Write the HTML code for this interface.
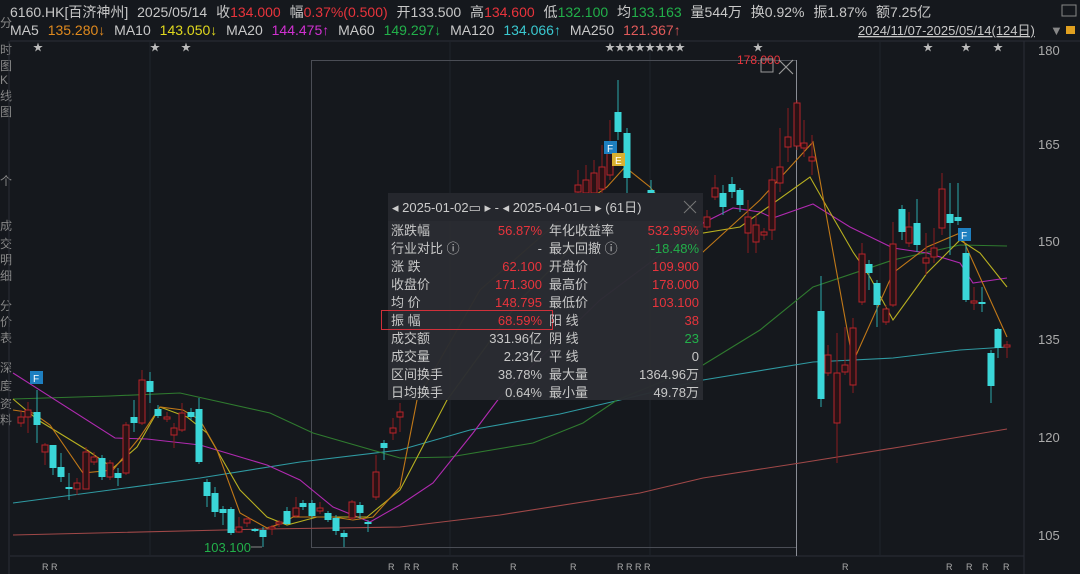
<!DOCTYPE html>
<html><head><meta charset="utf-8">
<style>
body{margin:0;background:#15181d;width:1080px;height:574px;overflow:hidden;font-family:"Liberation Sans","Noto Sans CJK SC",sans-serif;color:#c8c8c8}
svg{position:absolute;left:0;top:0}
.t{font-family:"Liberation Sans","Noto Sans CJK SC",sans-serif}
</style></head><body>
<svg id="s" width="1080" height="574" xmlns="http://www.w3.org/2000/svg">
<rect width="1080" height="574" fill="#15181d"/>
<line x1="10" y1="41" x2="1080" y2="41" stroke="#2a2e36"/>
<line x1="1024" y1="41" x2="1024" y2="574" stroke="#2a2e36"/>
<line x1="10" y1="556" x2="1024" y2="556" stroke="#2a2e36"/>
<line x1="150" y1="41" x2="150" y2="556" stroke="#1f232a"/>
<line x1="450" y1="41" x2="450" y2="556" stroke="#1f232a"/>
<line x1="650" y1="41" x2="650" y2="556" stroke="#1f232a"/>
<line x1="880" y1="41" x2="880" y2="556" stroke="#1f232a"/>
<rect x="311.5" y="60.5" width="485" height="487" fill="none" stroke="#4a4d55"/>
<line x1="796.5" y1="60" x2="796.5" y2="556" stroke="#8a8d95"/>
<g id="ma" fill="none" stroke-width="1.1"></g>
<g id="cd"></g>
<g class="t" font-size="14" word-spacing="5">
<text x="10" y="17" fill="#c8c8c8">6160.HK[百济神州]  2025/05/14 收<tspan fill="#e8343c">134.000</tspan> 幅<tspan fill="#e8343c">0.37%(0.500)</tspan> 开133.500 高<tspan fill="#e8343c">134.600</tspan> 低<tspan fill="#22b04a">132.100</tspan> 均<tspan fill="#22b04a">133.163</tspan> 量544万 换0.92% 振1.87% 额7.25亿</text>
<text x="10" y="35" fill="#c8c8c8">MA5 <tspan fill="#e08a1e">135.280↓</tspan> MA10 <tspan fill="#e0d81e">143.050↓</tspan> MA20 <tspan fill="#d030d0">144.475↑</tspan> MA60 <tspan fill="#22b04a">149.297↓</tspan> MA120 <tspan fill="#3ac8d0">134.066↑</tspan> MA250 <tspan fill="#e05a5a">121.367↑</tspan></text>
</g>
<g class="t" font-size="13">
<text x="858" y="35" fill="#c8c8c8" text-decoration="underline">2024/11/07-2025/05/14(124日)</text>
<text x="1050" y="35" fill="#888">▼</text>
<rect x="1066" y="26" width="9" height="8" fill="#e0a020"/>
<rect x="1062" y="5" width="14" height="11" fill="none" stroke="#888"/>
</g>
<g fill="#bbb" font-size="10" class="t">
<text x="33" y="51">★</text><text x="150" y="51">★</text><text x="181" y="51">★</text>
<text x="605" y="51">★★★★★★★★</text><text x="753" y="51">★</text><text x="923" y="51">★</text><text x="961" y="51">★</text><text x="993" y="51">★</text>
</g>
<g fill="#aaa" font-size="13" class="t">
<text x="1038" y="55">180</text><text x="1038" y="149">165</text><text x="1038" y="246">150</text><text x="1038" y="344">135</text><text x="1038" y="442">120</text><text x="1038" y="540">105</text>
</g>
<g fill="#aaa" font-size="9" class="t">
<text x="42" y="570">R R</text><text x="388" y="570">R</text><text x="404" y="570">R</text><text x="413" y="570">R</text><text x="452" y="570">R</text><text x="510" y="570">R</text><text x="570" y="570">R</text><text x="617" y="570">R R R R</text><text x="842" y="570">R</text><text x="946" y="570">R</text><text x="966" y="570">R</text><text x="982" y="570">R</text><text x="1003" y="570">R</text>
</g>
<g fill="#888" font-size="12" class="t">
<text x="0" y="27">分</text><text x="0" y="54">时</text><text x="0" y="70">图</text>
<text x="0" y="84">K</text><text x="0" y="100">线</text><text x="0" y="116">图</text>
<text x="0" y="185">个</text><text x="0" y="230">成</text><text x="0" y="248">交</text><text x="0" y="264">明</text><text x="0" y="280">细</text>
<text x="0" y="310">分</text><text x="0" y="326">价</text><text x="0" y="342">表</text>
<text x="0" y="372">深</text><text x="0" y="390">度</text><text x="0" y="408">资</text><text x="0" y="424">料</text>
</g>
<line x1="9" y1="41" x2="9" y2="574" stroke="#2a2e36"/>
<text x="737" y="64" fill="#e8343c" font-size="12" class="t">178.000</text>
<rect x="761" y="59" width="12" height="13" fill="none" stroke="#999"/>
<path d="M779 60 L793 74 M793 60 L779 74" stroke="#999" stroke-width="1.2"/>
<text x="204" y="552" fill="#22b04a" font-size="13" class="t">103.100</text>
<line x1="251" y1="547" x2="262" y2="547" stroke="#888"/>
<rect x="30" y="371" width="13" height="13" fill="#1e7fc0"/><text x="33" y="382" fill="#fff" font-size="10" class="t">F</text>
<rect x="604" y="141" width="13" height="13" fill="#1e7fc0"/><text x="607" y="152" fill="#fff" font-size="10" class="t">F</text>
<rect x="612" y="153" width="13" height="13" fill="#d8b030"/><text x="615" y="164" fill="#fff" font-size="10" class="t">E</text>
<rect x="958" y="228" width="13" height="13" fill="#1e7fc0"/><text x="961" y="239" fill="#fff" font-size="10" class="t">F</text>
<rect x="388" y="193" width="315" height="207" fill="#2a2c32" fill-opacity="0.97"/>
<rect x="388" y="193" width="315" height="28" fill="#25272d"/>
<g class="t" font-size="13">
<text x="392" y="212" fill="#ccc">◂ <tspan>2025-01-02</tspan>▭ ▸ -  ◂ 2025-04-01▭ ▸  (61日)</text>
<path d="M684 201 L696 213 M696 201 L684 213" stroke="#777"/>
</g>
<rect x="381.5" y="310.5" width="171" height="19" fill="none" stroke="#d0303a"/>
<g class="t" font-size="13" fill="#c8c8c8" id="pop"></g>
</svg>
<script>
const NS="http://www.w3.org/2000/svg";
function el(p,t,a,txt){const e=document.createElementNS(NS,t);for(const k in a)e.setAttribute(k,a[k]);if(txt!==undefined)e.textContent=txt;p.appendChild(e);return e;}
const R="#e8343c",G="#22b04a",W="#c8c8c8";
const rows=[["涨跌幅","56.87%",R,"年化收益率","532.95%",R],["行业对比 ⓘ","-",W,"最大回撤 ⓘ","-18.48%",G],["涨  跌","62.100",R,"开盘价","109.900",R],["收盘价","171.300",R,"最高价","178.000",R],["均  价","148.795",R,"最低价","103.100",R],["振  幅","68.59%",R,"阳  线","38",R],["成交额","331.96亿",W,"阴  线","23",G],["成交量","2.23亿",W,"平  线","0",W],["区间换手","38.78%",W,"最大量","1364.96万",W],["日均换手","0.64%",W,"最小量","49.78万",W]];
const pop=document.getElementById("pop");
rows.forEach((r,i)=>{const y=235+i*18;
el(pop,"text",{x:391,y:y,fill:"#c8c8c8"},r[0]);
el(pop,"text",{x:542,y:y,fill:r[2],"text-anchor":"end"},r[1]);
el(pop,"text",{x:549,y:y,fill:"#c8c8c8"},r[3]);
el(pop,"text",{x:699,y:y,fill:r[5],"text-anchor":"end"},r[4]);});
const ma=document.getElementById("ma");
const lines=[
["#a04848",[[13,535],[265,529],[400,527],[500,515],[640,493],[703,478],[800,463],[900,447],[1007,429]]],
["#2f9aa2",[[13,503],[200,478],[300,462],[400,450],[470,430],[560,414],[620,400],[703,380],[813,362],[893,358],[960,350],[1007,347]]],
["#2f7a2f",[[13,399],[110,396],[180,393],[270,413],[313,433],[400,458],[450,457],[533,443],[583,423],[617,400],[703,365],[760,330],[813,287],[893,260],[960,245],[1007,246]]],
["#b02ab0",[[13,373],[115,438],[147,439],[200,445],[267,465],[300,480],[333,507],[370,522],[400,505],[433,483],[473,433],[500,397],[600,300],[703,223],[733,208],[760,212],[773,218],[813,204],[850,227],[893,248],[927,253],[960,263],[973,283],[1007,278]]],
["#b8b020",[[13,399],[38,420],[87,450],[113,468],[137,447],[160,407],[187,417],[207,433],[240,490],[267,517],[287,525],[317,517],[367,517],[400,490],[447,400],[520,300],[600,220],[650,195],[680,215],[703,233],[740,227],[810,177],[827,207],[853,252],[870,277],[893,320],[927,273],[960,240],[980,253],[1007,287]]],
["#c07818",[[13,410],[33,413],[50,425],[83,473],[113,470],[140,437],[160,407],[183,410],[200,420],[217,450],[240,513],[267,528],[283,523],[293,517],[333,517],[353,520],[373,517],[400,487],[417,400],[480,290],[560,220],[607,187],[625,167],[650,187],[703,252],[760,200],[813,142],[853,362],[893,273],[927,247],[960,233],[1007,337]]]];
lines.forEach(l=>el(ma,"polyline",{stroke:l[0],points:l[1].map(p=>p.join(",")).join(" ")}));
const C=[[21,417,423,410,427,'r'],[28,410,417,402,433,'r'],[37,412,425,390,443,'c'],[45,445,452,443,465,'r'],[53,445,468,445,475,'c'],[61,467,477,453,482,'c'],[69,487,489,473,500,'c'],[77,483,489,478,495,'r'],[86,452,489,447,489,'r'],[94,457,462,452,465,'r'],[102,458,477,455,480,'c'],[110,463,477,460,480,'r'],[118,473,478,468,486,'c'],[126,425,473,422,475,'r'],[134,417,423,400,432,'c'],[142,380,423,370,425,'r'],[150,381,392,372,403,'c'],[158,409,416,405,418,'c'],[167,417,419,412,422,'r'],[174,428,435,423,448,'r'],[182,413,430,403,432,'r'],[191,412,417,408,420,'c'],[199,409,462,398,464,'c'],[207,482,496,479,507,'c'],[215,493,512,487,517,'c'],[223,509,513,506,525,'c'],[231,509,533,507,535,'c'],[239,527,532,517,533,'r'],[247,519,523,517,527,'r'],[255,529,531,528,532,'c'],[263,530,537,527,547,'c'],[272,527,529,525,535,'r'],[279,522,524,520,527,'r'],[287,511,524,507,525,'c'],[296,508,516,497,517,'r'],[303,503,507,500,510,'c'],[312,503,516,500,518,'c'],[320,508,511,502,514,'r'],[328,513,520,511,522,'c'],[336,518,531,515,535,'c'],[344,533,537,530,547,'c'],[352,502,518,500,520,'r'],[360,505,513,502,518,'c'],[368,522,524,520,532,'c'],[376,472,497,455,500,'r'],[384,443,448,440,460,'c'],[393,428,433,418,440,'r'],[400,412,417,403,432,'r'],
[578,185,192,170,195,'r'],[586,180,193,165,195,'r'],[594,173,193,160,195,'r'],[602,167,189,145,195,'r'],[610,145,175,120,180,'r'],[618,112,132,80,140,'c'],[627,133,178,128,195,'c'],[651,190,193,180,195,'c'],
[707,217,227,210,230,'r'],[715,188,197,175,200,'r'],[723,193,207,185,215,'c'],[732,184,192,177,198,'c'],[740,190,205,188,212,'c'],[748,217,233,200,253,'r'],[756,225,242,215,253,'r'],[764,232,235,228,240,'r'],[772,180,230,168,240,'r'],[780,167,183,128,192,'r'],[788,137,147,108,162,'r'],[797,103,146,100,150,'r'],[804,143,148,120,157,'r'],[812,157,161,135,175,'r'],[821,311,399,276,407,'c'],[828,355,373,345,376,'r'],[837,373,423,333,463,'r'],[845,365,372,327,375,'r'],[853,328,385,318,393,'r'],[862,254,302,243,305,'r'],[869,264,273,260,290,'c'],[877,283,305,280,327,'c'],[886,309,322,305,325,'r'],[893,244,305,222,307,'r'],[902,209,232,205,240,'c'],[909,227,243,212,247,'r'],[917,223,245,199,252,'c'],[926,258,263,233,275,'r'],[934,248,257,228,263,'r'],[942,189,228,173,235,'r'],[950,214,223,183,255,'c'],[958,217,221,183,225,'c'],[966,253,300,245,302,'c'],[974,301,303,287,310,'r'],[982,302,304,287,312,'c'],[991,353,386,350,403,'c'],[998,329,348,328,358,'c'],[1007,345,347,341,358,'r']];
const cd=document.getElementById("cd");
C.forEach(c=>{const [x,t,b,wt,wb,k]=c;const col=k=='r'?"#b8242a":"#3ad6d8";
el(cd,"line",{x1:x,y1:wt,x2:x,y2:wb,stroke:k=='r'?"#8c1c20":"#2aa8aa","stroke-width":1});
if(k=='r')el(cd,"rect",{x:x-3,y:t,width:6,height:Math.max(1,b-t),fill:"#2a1215",stroke:col,"stroke-width":1});
else el(cd,"rect",{x:x-3.5,y:t,width:7,height:Math.max(1.5,b-t),fill:col});});
</script>
</body></html>
